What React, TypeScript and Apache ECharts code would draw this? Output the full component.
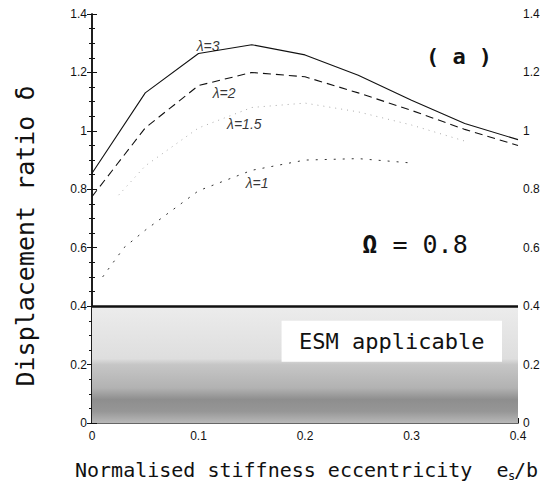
import React, { useEffect, useRef } from "react";
import * as echarts from "echarts";

const xs = [0, 0.05, 0.1, 0.15, 0.2, 0.25, 0.3, 0.35, 0.4];
const lambda3 = [0.855, 1.13, 1.265, 1.295, 1.26, 1.19, 1.105, 1.025, 0.97];
const lambda2 = [0.775, 1.01, 1.155, 1.2, 1.185, 1.13, 1.07, 1.005, 0.95];
const lambda15X = [0.025, 0.05, 0.1, 0.15, 0.2, 0.25, 0.3, 0.35];
const lambda15 = [0.78, 0.88, 1.01, 1.08, 1.095, 1.065, 1.02, 0.965];
const lambda1X = [0.01, 0.03, 0.05, 0.1, 0.15, 0.2, 0.25, 0.3];
const lambda1 = [0.5, 0.6, 0.66, 0.795, 0.865, 0.9, 0.905, 0.89];

const curveNames = ["λ=3", "λ=2", "λ=1.5", "λ=1"];
const labelX = [0.109, 0.124, 0.143, 0.155];
const labelY = [1.291, 1.13, 1.024, 0.822];

const limitY = 0.4;
const boxX = [0.178, 0.385];
const boxY = [0.21, 0.35];
const boxText = "ESM applicable";

const mono = "'DejaVu Sans Mono', monospace";

export default function App() {
  const ref = useRef<HTMLDivElement>(null);
  useEffect(() => {
    document.body.style.margin = "0";
    if (!ref.current) return;
    const chart = echarts.init(ref.current, undefined, { renderer: "svg" });
    const pair = (x: number[], y: number[]) => x.map((v, i) => [v, y[i]]);
    const axisTick = { show: true, inside: true, length: 5, lineStyle: { color: "#111", width: 1 } };
    const minorTick = { show: true, splitNumber: 4, length: 3, lineStyle: { color: "#111", width: 1 } };
    chart.setOption({
      animation: false,
      backgroundColor: "#fff",
      grid: { left: 92, right: 37, top: 14, bottom: 65 },
      xAxis: [
        {
          type: "value",
          min: 0,
          max: 0.4,
          interval: 0.1,
          axisLine: { lineStyle: { color: "#111", width: 1.5 } },
          axisTick: { ...axisTick },
          minorTick: { show: true, splitNumber: 2, length: 3, lineStyle: { color: "#111" } },
          splitLine: { show: false },
          axisLabel: { color: "#111", fontFamily: "'Liberation Sans', Arial", fontSize: 12, margin: 7 },
        },
        {
          type: "value",
          position: "top",
          min: 0,
          max: 0.4,
          interval: 0.1,
          axisLine: { show: true, lineStyle: { color: "#666", width: 1.2 } },
          axisTick: { show: false },
          axisLabel: { show: false },
          splitLine: { show: false },
        },
      ],
      yAxis: [
        {
          type: "value",
          min: 0,
          max: 1.4,
          interval: 0.2,
          axisLine: { show: true, lineStyle: { color: "#111", width: 1.5 } },
          axisTick,
          minorTick,
          splitLine: { show: false },
          axisLabel: { color: "#111", fontFamily: "'Liberation Sans', Arial", fontSize: 12, margin: 5 },
        },
        {
          type: "value",
          position: "right",
          min: 0,
          max: 1.4,
          interval: 0.2,
          axisLine: { show: true, lineStyle: { color: "#111", width: 1.5 } },
          axisTick,
          minorTick,
          splitLine: { show: false },
          axisLabel: { color: "#111", fontFamily: "'Liberation Sans', Arial", fontSize: 12, margin: 5 },
        },
      ],
      series: [
        {
          type: "line",
          data: [],
          z: 1,
          markArea: {
            silent: true,
            itemStyle: {
              color: {
                type: "linear",
                x: 0,
                y: 0,
                x2: 0,
                y2: 1,
                colorStops: [
                  { offset: 0, color: "#ececec" },
                  { offset: 0.45, color: "#dedede" },
                  { offset: 0.5, color: "#c6c6c6" },
                  { offset: 0.7, color: "#b2b2b2" },
                  { offset: 0.8, color: "#8e8e8e" },
                  { offset: 0.9, color: "#969696" },
                  { offset: 1, color: "#b8b8b8" },
                ],
              },
            },
            data: [[{ coord: [0, 0] }, { coord: [0.4, limitY] }]],
          },
        },
        {
          type: "line",
          data: [],
          z: 2,
          markArea: {
            silent: true,
            itemStyle: { color: "#fff" },
            label: {
              show: true,
              position: "inside",
              formatter: boxText,
              fontFamily: mono,
              fontSize: 22,
              color: "#111",
            },
            data: [[{ coord: [boxX[0], boxY[0]] }, { coord: [boxX[1], boxY[1]] }]],
          },
          markLine: {
            silent: true,
            symbol: "none",
            label: { show: false },
            lineStyle: { color: "#111", width: 2.5, type: "solid" },
            data: [{ yAxis: limitY }],
          },
        },
        {
          name: curveNames[0],
          type: "line",
          data: pair(xs, lambda3),
          symbol: "none",
          z: 3,
          lineStyle: { color: "#111", width: 1.1, type: "solid" },
        },
        {
          name: curveNames[1],
          type: "line",
          data: pair(xs, lambda2),
          symbol: "none",
          z: 3,
          lineStyle: { color: "#111", width: 1.1, type: [8, 5] },
        },
        {
          name: curveNames[2],
          type: "line",
          data: pair(lambda15X, lambda15),
          symbol: "none",
          z: 3,
          lineStyle: { color: "#aaa", width: 1, type: [1, 5] },
        },
        {
          name: curveNames[3],
          type: "line",
          data: pair(lambda1X, lambda1),
          symbol: "none",
          z: 3,
          lineStyle: { color: "#333", width: 1, type: [2, 7] },
        },
        {
          type: "scatter",
          symbolSize: 0,
          z: 4,
          data: labelX.map((x, i) => ({ value: [x, labelY[i]], name: curveNames[i] })),
          label: {
            show: true,
            position: "inside",
            formatter: (p: any) => p.name,
            fontFamily: "'Liberation Sans', Arial",
            fontStyle: "italic",
            fontSize: 14,
            color: "#000",
          },
        },
      ],
      graphic: [
        {
          type: "text",
          x: 459,
          y: 56,
          style: {
            text: "( a )",
            font: `bold 22px ${mono}`,
            fill: "#111",
            align: "center",
            verticalAlign: "middle",
          },
        },
        {
          type: "text",
          x: 415,
          y: 244,
          style: {
            text: "{b|Ω} = 0.8",
            fontFamily: mono,
            fontSize: 25,
            fill: "#111",
            align: "center",
            verticalAlign: "middle",
            rich: { b: { fontFamily: mono, fontSize: 25, fontWeight: "bold", fill: "#111" } },
          },
        },
        {
          type: "text",
          x: 25,
          y: 236,
          rotation: Math.PI / 2,
          style: {
            text: "Displacement ratio δ",
            font: `25px ${mono}`,
            fill: "#111",
            align: "center",
            verticalAlign: "middle",
          },
        },
        {
          type: "text",
          x: 75,
          y: 470,
          style: {
            text: "Normalised stiffness eccentricity  e",
            font: `20px ${mono}`,
            fill: "#111",
            align: "left",
            verticalAlign: "middle",
          },
        },
        {
          type: "text",
          x: 508,
          y: 476,
          style: {
            text: "s",
            font: `12px ${mono}`,
            fill: "#111",
            align: "left",
            verticalAlign: "middle",
          },
        },
        {
          type: "text",
          x: 514,
          y: 470,
          style: {
            text: "/b",
            font: `20px ${mono}`,
            fill: "#111",
            align: "left",
            verticalAlign: "middle",
          },
        },
      ],
    });
    return () => chart.dispose();
  }, []);
  return <div ref={ref} style={{ width: 555, height: 488 }} />;
}
